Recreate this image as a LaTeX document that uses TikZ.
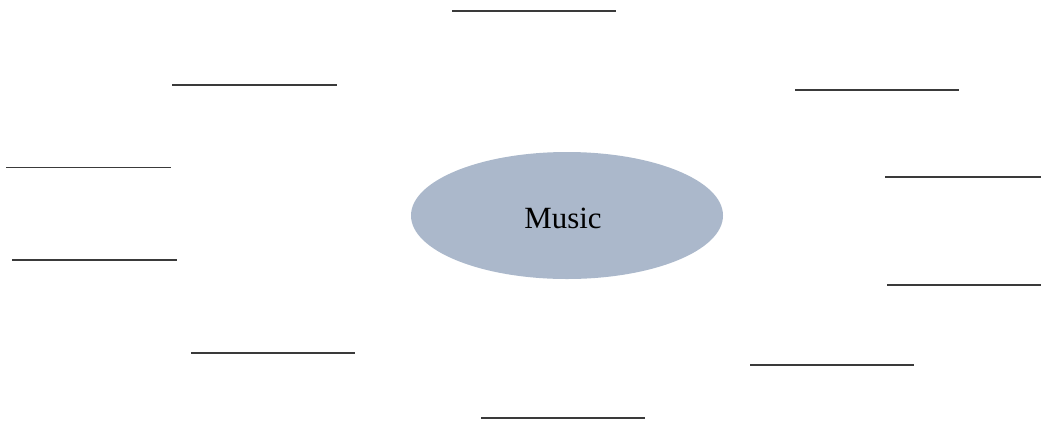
\documentclass[tikz,border=0pt]{standalone}
\usepackage{fontspec}
\setmainfont{Liberation Serif}
\usetikzlibrary{shapes.geometric}
\definecolor{ellfill}{HTML}{ABB8CB}
\definecolor{linecol}{HTML}{3A3A3A}
\tikzset{
  blank/.style={draw=linecol,line width=1.4bp},
  bubble/.style={ellipse,fill=ellfill,draw=none,minimum width=312bp,minimum height=127bp,inner sep=0pt},
  bubbletext/.style={inner sep=0pt,font=\fontsize{31}{36}\selectfont}
}
\begin{document}
\begin{tikzpicture}[x=1bp,y=-1bp]
\useasboundingbox (0,0) rectangle (1043,421);
\node[bubble] (music) at (567,215.5) {};
\node[bubbletext] (musictext) at (563,218) {Music};
\draw[blank] (452,11) -- (616,11);
\draw[blank] (172,85) -- (337,85);
\draw[blank] (795,90) -- (959,90);
\draw[blank] (6,167.5) -- (171,167.5);
\draw[blank] (885,177) -- (1041,177);
\draw[blank] (12,260) -- (177,260);
\draw[blank] (887,285) -- (1041,285);
\draw[blank] (191,353) -- (355,353);
\draw[blank] (750,365) -- (914,365);
\draw[blank] (481,418) -- (645,418);
\end{tikzpicture}
\end{document}
